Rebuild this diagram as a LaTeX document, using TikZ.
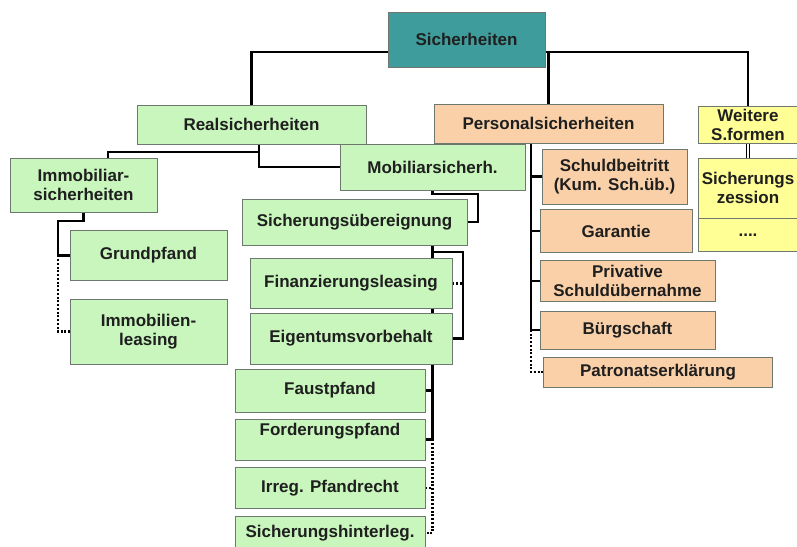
\documentclass[tikz,border=0pt]{standalone}
\usepackage{fontspec}
\setsansfont{Liberation Sans}
\usetikzlibrary{backgrounds}

\definecolor{grnfill}{RGB}{200,246,188}
\definecolor{pchfill}{RGB}{250,208,168}
\definecolor{yelfill}{RGB}{255,255,150}
\definecolor{topfill}{RGB}{62,156,156}
\definecolor{boxline}{RGB}{110,120,110}

\begin{document}
\begin{tikzpicture}[
  x=0.3mm, y=-0.3mm,
  font={\sffamily\bfseries\fontsize{14.5}{16}\selectfont},
  b/.style={draw=boxline, line width=0.7pt, align=center, inner sep=2pt,
            text=black!88},
  grn/.style={b, fill=grnfill}, pch/.style={b, fill=pchfill},
  yel/.style={b, fill=yelfill}, top/.style={b, fill=topfill},
  a/.style={line width=2.2pt, draw=black},
  dt/.style={line width=2pt, draw=black, dash pattern=on 1.6pt off 1.6pt},
]
\useasboundingbox (0,0) rectangle (797,547);

% top and first level
\node[top, minimum width=47.1mm, minimum height=16.5mm] (sich) at (466.5,39.5) {Sicherheiten};
\node[grn, minimum width=68.7mm, minimum height=11.7mm] (real) at (251.5,124.5) {Realsicherheiten};
\node[pch, minimum width=68.7mm, minimum height=11.7mm] (pers) at (548.5,123.5) {Personalsicherheiten};
\node[yel, minimum width=30mm, minimum height=11.1mm] (weit) at (748,125) {Weitere\\S.formen};

% weitere Sicherungsformen
\node[yel, minimum width=30mm, minimum height=18mm] (szess) at (748,188) {Sicherungs\\zession};
\node[yel, minimum width=30mm, minimum height=10mm] (sdots) at (748,235) {....};

% Realsicherheiten
\node[grn, minimum width=44.1mm, minimum height=16.2mm] (immo) at (83.5,185) {Immobiliar-\\sicherheiten};
\node[grn, minimum width=55.5mm, minimum height=13.8mm] (mobil) at (432.5,167) {Mobiliarsicherh.};
\node[grn, minimum width=47.1mm, minimum height=15mm] (grund) at (148.5,255.5) {Grundpfand};
\node[grn, minimum width=47.1mm, minimum height=19.5mm] (ileas) at (148.5,331.5) {Immobilien-\\leasing};
\node[grn, minimum width=67.5mm, minimum height=13.8mm] (sue) at (354.5,222) {Sicherungsübereignung};
\node[grn, minimum width=60.6mm, minimum height=15mm] (finl) at (351,283.5) {Finanzierungsleasing};
\node[grn, minimum width=60.6mm, minimum height=15.3mm] (eigv) at (351,338.5) {Eigentumsvorbehalt};
\node[grn, minimum width=57mm, minimum height=12.9mm] (faust) at (330,390.5) {Faustpfand};
\node[grn, minimum width=57mm, minimum height=12.3mm, text depth=17pt] (ford) at (330,439.5) {Forderungspfand};
\node[grn, minimum width=57mm, minimum height=12.3mm] (irreg) at (330,488) {Irreg. Pfandrecht};
\node[grn, minimum width=57mm, minimum height=10.2mm] (shint) at (330,533) {Sicherungshinterleg.};

% Personalsicherheiten
\node[pch, minimum width=43.5mm, minimum height=16.5mm] (schb) at (614.5,176.5) {Schuldbeitritt\\(Kum. Sch.üb.)};
\node[pch, minimum width=45.6mm, minimum height=13.1mm] (gar) at (616,231) {Garantie};
\node[pch, minimum width=52.5mm, minimum height=12.5mm] (priv) at (627.5,281) {Privative\\Schuldübernahme};
\node[pch, minimum width=52.5mm, minimum height=11.4mm] (bue) at (627.5,330) {Bürgschaft};
\node[pch, minimum width=68.9mm, minimum height=9mm] (patr) at (658,372) {Patronatserklärung};

% junctions
\coordinate (topj) at (550,52);
\coordinate (rj) at (259,152);
\coordinate (ij) at (108,152);
\coordinate (gj) at (58,221);
\coordinate (mj) at (478,194);
\coordinate (sj) at (463,252);
\coordinate (pj) at (531,150);

\begin{scope}[on background layer]
\draw[a] (real.north) |- (sich.west |- topj);
\draw[a] (sich.east |- topj) -| (weit.north);
\draw[a] (pers.north) |- (sich.east |- topj);
\draw[a, double, double distance=1.4pt, line width=0.8pt] (weit.south) -- (szess.north);

\draw[a] (rj |- real.south) |- (mobil.west);
\draw[a] (rj) -- (ij) -- (ij |- immo.north);

\draw[a] (immo.south) -- (immo.south |- gj) -- (gj) |- (grund.west);
\draw[dt] (gj |- grund.west) |- (ileas.west);

\draw[a] (mobil.south) |- (mj) |- (sue.east);
\draw[a] (mobil.south |- sue.south) |- (sj) |- (eigv.east);
\draw[dt] (finl.east) -- (finl.east -| sj);

\draw[a] (mobil.south |- sue.south) -- (mobil.south |- ford.east) -- (ford.east);
\draw[a] (faust.east) -- (faust.east -| mobil.south);
\draw[dt] (mobil.south |- ford.east) |- (shint.east);
\draw[dt] (irreg.east) -- (irreg.east -| mobil.south);

\draw[a] (pj |- pers.south) |- (bue.west);
\foreach \n in {schb,gar,priv}
  \draw[a] (\n.west) -- (\n.west -| pj);
\draw[dt] (pj |- bue.west) |- (patr.west);
\end{scope}
\end{tikzpicture}
\end{document}
